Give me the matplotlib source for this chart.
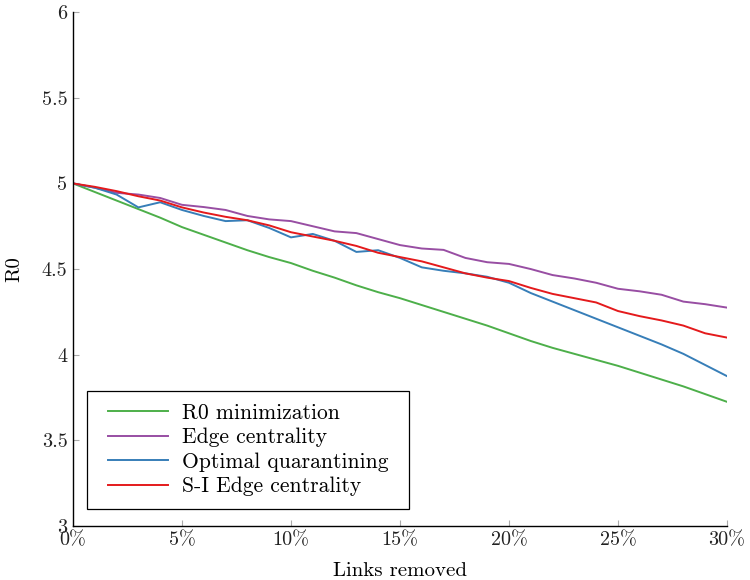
import matplotlib
matplotlib.use("Agg")
import matplotlib.pyplot as plt
from matplotlib.ticker import FuncFormatter, MultipleLocator
from matplotlib.patches import Rectangle

plt.rcParams['font.family'] = ['cmr10', 'DejaVu Serif']
plt.rcParams['mathtext.fontset'] = 'cm'
plt.rcParams['axes.unicode_minus'] = False

links_pct = list(range(0, 31))
r0_min = [5.0, 4.95, 4.90, 4.85, 4.80, 4.745, 4.70, 4.655, 4.61, 4.57, 4.535,
          4.49, 4.45, 4.405, 4.365, 4.33, 4.29, 4.25, 4.21, 4.17, 4.125,
          4.08, 4.04, 4.005, 3.97, 3.935, 3.895, 3.855, 3.815, 3.77, 3.725]
edge_cent = [5.0, 4.975, 4.945, 4.935, 4.915, 4.875, 4.862, 4.845, 4.81, 4.79, 4.78,
             4.75, 4.72, 4.71, 4.675, 4.64, 4.62, 4.612, 4.565, 4.54, 4.53,
             4.50, 4.465, 4.445, 4.42, 4.385, 4.37, 4.35, 4.31, 4.295, 4.275]
opt_quar = [5.0, 4.975, 4.935, 4.86, 4.89, 4.845, 4.81, 4.78, 4.785, 4.74, 4.685,
            4.705, 4.665, 4.60, 4.61, 4.565, 4.51, 4.49, 4.475, 4.455, 4.42,
            4.36, 4.31, 4.26, 4.21, 4.16, 4.11, 4.06, 4.005, 3.94, 3.875]
si_edge = [5.0, 4.98, 4.955, 4.925, 4.90, 4.86, 4.83, 4.805, 4.785, 4.755, 4.715,
           4.69, 4.665, 4.635, 4.595, 4.57, 4.545, 4.51, 4.475, 4.45, 4.43,
           4.39, 4.355, 4.33, 4.305, 4.255, 4.225, 4.20, 4.17, 4.125, 4.10]

series_names = ["R0 minimization", "Edge centrality", "Optimal quarantining", "S-I Edge centrality"]
series_colors = ["#4daf4a", "#984ea3", "#377eb8", "#e41a1c"]
series_values = [r0_min, edge_cent, opt_quar, si_edge]

fig = plt.figure(figsize=(7.5, 5.8), dpi=100)
ax = fig.add_axes([0.0973, 0.0931, 0.872, 0.886])

for name, col, vals in zip(series_names, series_colors, series_values):
    ax.plot(links_pct, vals, color=col, lw=1.4, label=name)

ax.set_xlim(0, 30)
ax.set_ylim(3, 6)
ax.xaxis.set_major_locator(MultipleLocator(5))
ax.yaxis.set_major_locator(MultipleLocator(0.5))
ax.xaxis.set_major_formatter(FuncFormatter(lambda v, p: f"{int(round(v))}%"))
ax.yaxis.set_major_formatter(FuncFormatter(lambda v, p: f"{v:g}"))

for s in ["top", "right"]:
    ax.spines[s].set_visible(False)
for s in ["left", "bottom"]:
    ax.spines[s].set_linewidth(1.0)
    ax.spines[s].set_color("black")

ax.tick_params(direction="in", length=4, width=0.8, color="#aaaaaa",
               labelsize=14.5, labelcolor="#222222")
ax.tick_params(axis="y", pad=4)
ax.tick_params(axis="x", pad=4)

ax.set_xlabel("Links removed", fontsize=15, labelpad=9)
ax.set_ylabel("R0", fontsize=15, labelpad=13)

leg = ax.legend(loc="lower left", bbox_to_anchor=(0.043, 0.045), fontsize=15.5,
                frameon=False, handlelength=2.8, handletextpad=0.65,
                borderpad=0.3, labelspacing=0.23, borderaxespad=0)
leg.set_zorder(6)

fig.canvas.draw()
bb = leg.get_window_extent()
inv = fig.transFigure.inverted()
hpad, vpad = 14, 6
(x0, y0) = inv.transform((bb.x0 - hpad, bb.y0 - vpad))
(x1, y1) = inv.transform((bb.x1 + hpad, bb.y1 + vpad))
frame = Rectangle((x0, y0), x1 - x0, y1 - y0, transform=fig.transFigure,
                  facecolor="white", edgecolor="black", lw=0.9, zorder=5,
                  clip_on=False)
ax.add_patch(frame)

fig.savefig("out.png", dpi=100)
